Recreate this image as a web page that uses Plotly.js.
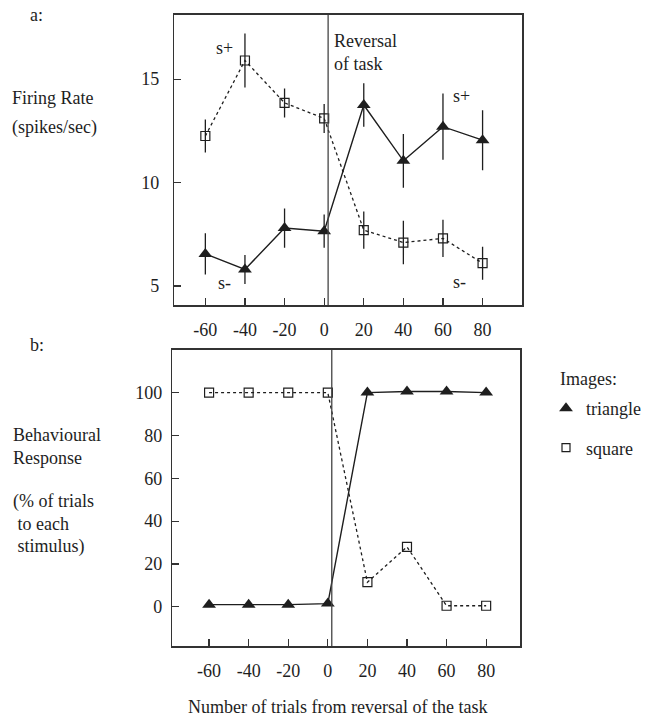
<!DOCTYPE html>
<html>
<head>
<meta charset="utf-8">
<script src="https://cdn.plot.ly/plotly-3.0.1.min.js"></script>
<style>html,body{margin:0;padding:0;background:#fff;}#chart{width:646px;height:719px;}</style>
</head>
<body>
<div id="chart"></div>
<script>
// ---- Data ----
var trials = [-60, -40, -20, 0, 20, 40, 60, 80];
var tickLabels = ['-60', '-40', '-20', '0', '20', '40', '60', '80'];

// Panel a: firing rate (spikes/sec)
var firingTriangle    = [6.55, 5.8, 7.8, 7.65, 13.75, 11.05, 12.7, 12.05];
var firingTriangleErr = [1.0, 0.7, 0.95, 0.8, 1.05, 1.3, 1.6, 1.45];
var firingSquare      = [12.25, 15.9, 13.85, 13.1, 7.7, 7.1, 7.3, 6.1];
var firingSquareErr   = [0.8, 1.3, 0.7, 0.7, 0.9, 1.05, 0.9, 0.8];

// Panel b: behavioural response (% of trials to each stimulus)
var behavTriangle = [1, 1, 1, 1.5, 100, 100.5, 100.5, 100];
var behavSquare   = [100, 100, 100, 100, 11.5, 28, 0.5, 0.5];

var reversalAt = 2;
var firingTicks = [5, 10, 15];
var behavTicks = [0, 20, 40, 60, 80, 100];

// ---- Styles ----
var FONT = 'Liberation Serif, Times New Roman, serif';
var INK = '#1e1e1e';
var W = 646, H = 719;
function px(x) { return x / W; }
function py(y) { return 1 - y / H; }

var errStyle = function (arr) {
  return {type: 'data', array: arr, visible: true, width: 0, thickness: 1.3, color: INK};
};

var traces = [
  {x: trials, y: firingSquare, xaxis: 'x', yaxis: 'y', mode: 'lines+markers', showlegend: false,
   line: {color: INK, width: 1.3, dash: '3px,3px'},
   marker: {symbol: 'square-open', size: 9, color: INK, line: {width: 1.2, color: INK}},
   error_y: errStyle(firingSquareErr)},
  {x: trials, y: firingTriangle, xaxis: 'x', yaxis: 'y', mode: 'lines+markers', showlegend: false,
   line: {color: INK, width: 1.4},
   marker: {symbol: 'triangle-up', size: 12, color: INK},
   error_y: errStyle(firingTriangleErr)},
  {x: trials, y: behavSquare, xaxis: 'x2', yaxis: 'y2', mode: 'lines+markers', showlegend: false,
   line: {color: INK, width: 1.3, dash: '3px,3px'},
   marker: {symbol: 'square-open', size: 9, color: INK, line: {width: 1.2, color: INK}}},
  {x: trials, y: behavTriangle, xaxis: 'x2', yaxis: 'y2', mode: 'lines+markers', showlegend: false,
   line: {color: INK, width: 1.4},
   marker: {symbol: 'triangle-up', size: 12, color: INK}},
  // legend entries
  {x: [null], y: [null], xaxis: 'x2', yaxis: 'y2', mode: 'markers', name: 'triangle', legendgroup: 'a',
   marker: {symbol: 'triangle-up', size: 12, color: INK}},
  {x: [null], y: [null], xaxis: 'x2', yaxis: 'y2', mode: 'markers', name: 'square', legendgroup: 'b',
   marker: {symbol: 'square-open', size: 8, color: INK, line: {width: 1.2, color: INK}}}
];

var axisBase = {
  showgrid: false, zeroline: false, showline: true, mirror: true,
  linecolor: '#333', linewidth: 1.6,
  ticks: 'inside', ticklen: 7, tickwidth: 1.2, tickcolor: '#333',
  tickfont: {family: FONT, size: 18, color: INK}
};
function ax(extra) { return Object.assign({}, axisBase, extra); }

var textFont = {family: FONT, size: 18, color: INK};
function label(text, x, y, xanchor) {
  return {text: text, xref: 'paper', yref: 'paper', x: px(x), y: py(y),
          xanchor: xanchor || 'left', yanchor: 'middle', showarrow: false, font: textFont, align: 'left'};
}

var layout = {
  width: W, height: H,
  margin: {l: 0, r: 0, t: 0, b: 0},
  paper_bgcolor: '#fff', plot_bgcolor: '#fff',
  font: textFont,
  xaxis: ax({domain: [px(175), px(524)], range: [-75.6, 100.1], anchor: 'y',
             tickvals: trials, ticktext: tickLabels, ticklabelstandoff: 8}),
  yaxis: ax({domain: [py(305), py(15)], range: [4.08, 18.1], anchor: 'x',
             tickvals: firingTicks, ticklabelstandoff: 10}),
  xaxis2: ax({domain: [px(173), px(522)], range: [-78.5, 97.3], anchor: 'y2',
              tickvals: trials, ticktext: tickLabels, ticklabelstandoff: 8}),
  yaxis2: ax({domain: [py(646), py(350)], range: [-18.3, 119.9], anchor: 'x2',
              tickvals: behavTicks, ticklabelstandoff: 5}),
  shapes: [
    {type: 'line', xref: 'x', yref: 'y domain', x0: reversalAt, x1: reversalAt, y0: 0, y1: 1,
     line: {color: '#444', width: 1.3}},
    {type: 'line', xref: 'x2', yref: 'y2 domain', x0: reversalAt, x1: reversalAt, y0: 0, y1: 1,
     line: {color: '#444', width: 1.3}}
  ],
  showlegend: true,
  legend: {x: px(548), y: py(390), xanchor: 'left', yanchor: 'top',
           bgcolor: 'rgba(0,0,0,0)', borderwidth: 0,
           font: textFont, tracegroupgap: 13, itemclick: false},
  annotations: [
    label('a:', 28, 15),
    label('Firing Rate', 10, 98),
    label('(spikes/sec)', 10, 128),
    label('b:', 28, 345),
    label('Behavioural', 11, 435),
    label('Response', 11, 458),
    label('(% of trials', 11, 502),
    label(' to each', 11, 524),
    label(' stimulus)', 11, 546),
    label('Images:', 560, 379),
    {text: 's+', xref: 'x', yref: 'y', x: -50.5, y: 16.5, showarrow: false, font: textFont},
    {text: 's+', xref: 'x', yref: 'y', x: 69.5, y: 14.2, showarrow: false, font: textFont},
    {text: 's-', xref: 'x', yref: 'y', x: -50.5, y: 5.15, showarrow: false, font: textFont},
    {text: 's-', xref: 'x', yref: 'y', x: 68.5, y: 5.2, showarrow: false, font: textFont},
    {text: 'Reversal<br>of task', xref: 'x', yref: 'y', x: 4.0, y: 16.28, xanchor: 'left', yanchor: 'middle',
     align: 'left', showarrow: false, font: textFont},
    label('Number of trials from reversal of the task', 339, 707, 'center')
  ]
};

Plotly.newPlot('chart', traces, layout, {staticPlot: true, displayModeBar: false});
</script>
</body>
</html>
